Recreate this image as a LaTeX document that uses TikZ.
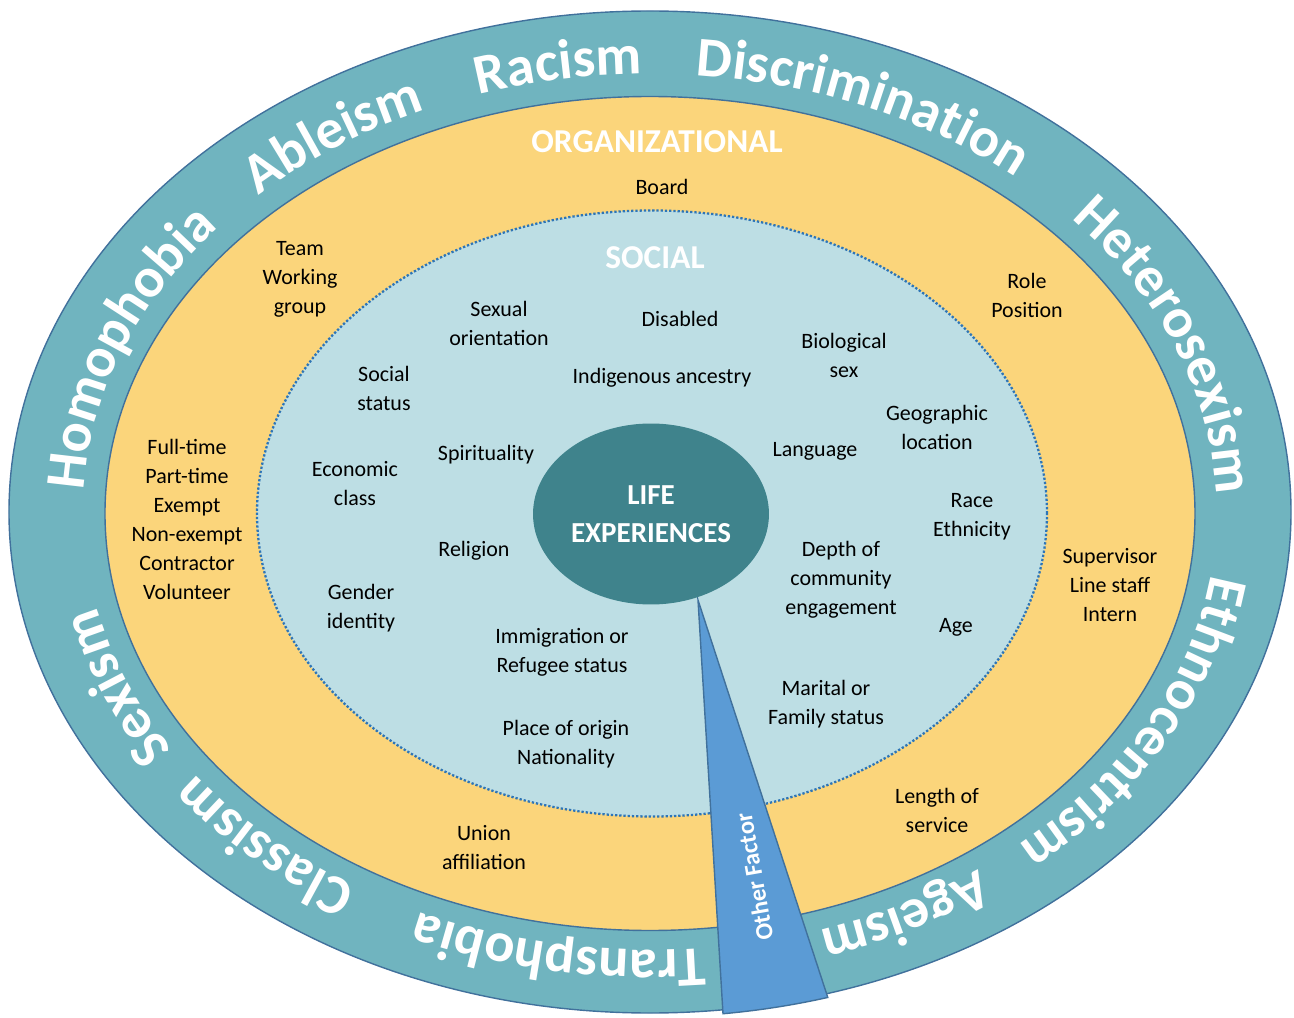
\documentclass[tikz,border=0pt]{standalone}
\usepackage{fontspec}
\setmainfont{Carlito}
\usepackage{xcolor}
\usetikzlibrary{shapes.geometric, decorations.text}

\definecolor{ringteal}{RGB}{112,180,191}
\definecolor{edgeblue}{RGB}{65,113,156}
\definecolor{orgyellow}{RGB}{251,213,123}
\definecolor{socblue}{RGB}{189,222,228}
\definecolor{lifeteal}{RGB}{63,131,140}
\definecolor{wedgeblue}{RGB}{91,155,213}
\definecolor{dotblue}{RGB}{46,117,182}

\newcommand\ringfont{\fontsize{32}{32}\selectfont\bfseries}

\begin{document}
\begin{tikzpicture}[
        x=0.02cm, y=0.02cm,
        ringword/.style={decorate, decoration={text along path, text align=center, text color=white, text={|\ringfont|#1}}},
        entry/.style={align=center, inner sep=0pt, font=\fontsize{12.5}{16.5}\selectfont},
        heading/.style={inner sep=0pt, text=white, font=\fontsize{19}{21}\selectfont\bfseries},
        lifeexp/.style={ellipse, fill=lifeteal, text=white, align=center, inner sep=0pt, minimum width=4.72cm, minimum height=3.62cm, font=\fontsize{16.5}{21.5}\selectfont\bfseries}
        ]
        \useasboundingbox (-650,-505) rectangle (644,512);

        % Rings
        \filldraw[fill=ringteal, draw=edgeblue, line width=0.8pt] (0,0) ellipse [x radius=641, y radius=501];
        \filldraw[fill=orgyellow, draw=edgeblue, line width=0.8pt] (0,-1.5) ellipse [x radius=545, y radius=417];
        \filldraw[fill=socblue, draw=dotblue, line width=1.3pt, dash pattern=on 1.3pt off 1.1pt] (2,-1.5) ellipse [x radius=395, y radius=303];

        % Words round the outer ring
        \path[ringword=Homophobia] (200:567 and 438) arc[start angle=200, end angle=120, x radius=567, y radius=438];
        \path[ringword=Ableism] (166:567 and 438) arc[start angle=166, end angle=86, x radius=567, y radius=438];
        \path[ringword=Racism] (140:567 and 438) arc[start angle=140, end angle=60, x radius=567, y radius=438];
        \path[ringword=Discrimination] (106:567 and 438) arc[start angle=106, end angle=26, x radius=567, y radius=438];
        \path[ringword=Heterosexism] (60.5:567 and 438) arc[start angle=60.5, end angle=-19.5, x radius=567, y radius=438];
        \path[ringword=Ethnocentrism] (13:567 and 438) arc[start angle=13, end angle=-67, x radius=567, y radius=438];
        \path[ringword=Ageism] (-21.5:567 and 438) arc[start angle=-21.5, end angle=-101.5, x radius=567, y radius=438];
        \path[ringword=Transphobia] (-60:567 and 438) arc[start angle=-60, end angle=-140, x radius=567, y radius=438];
        \path[ringword=Classism] (-95:567 and 438) arc[start angle=-95, end angle=-175, x radius=567, y radius=438];
        \path[ringword=Sexism] (-119.5:567 and 438) arc[start angle=-119.5, end angle=-199.5, x radius=567, y radius=438];

        % Wedge
        \filldraw[fill=wedgeblue, draw=edgeblue, line width=0.8pt] (48,-88) -- (-83.5:645 and 505) arc[start angle=-83.5, end angle=-74, x radius=645, y radius=505] -- cycle;

        % Nodes (pixel positions)
        \begin{scope}[shift={(-650,512)}, yscale=-1]
        \node[lifeexp] (life) at (651,514) {LIFE\\EXPERIENCES};
        \node[inner sep=0pt, rotate=100, text=white, font=\fontsize{14}{16}\selectfont\bfseries] (other) at (754,877) {Other Factor};

        \node[heading] (org) at (657,142) {ORGANIZATIONAL};
        \node[entry] (board) at (662,187) {Board};
        \node[entry] (team) at (300,279) {Team\\Working\\group};
        \node[entry] (role) at (1027,295) {Role\\Position};
        \node[entry] (status) at (187,519) {Full-time\\Part-time\\Exempt\\Non-exempt\\Contractor\\Volunteer};
        \node[entry] (level) at (1110,585) {Supervisor\\Line staff\\Intern};
        \node[entry] (length) at (937,810) {Length of\\service};
        \node[entry] (union) at (484,848) {Union\\affiliation};

        \node[heading] (social) at (655,258) {SOCIAL};
        \node[entry] (sexual) at (499,323) {Sexual\\orientation};
        \node[entry] (disabled) at (680,319) {Disabled};
        \node[entry] (biosex) at (844,355) {Biological\\sex};
        \node[entry] (socstatus) at (384,388) {Social\\status};
        \node[entry] (indigenous) at (662,378) {Indigenous ancestry};
        \node[entry] (geo) at (937,427) {Geographic\\location};
        \node[entry] (economic) at (355,484) {Economic\\class};
        \node[entry] (spirit) at (486,455) {Spirituality};
        \node[entry] (language) at (815,451) {Language};
        \node[entry] (race) at (972,517) {Race\\Ethnicity};
        \node[entry] (religion) at (474,551) {Religion};
        \node[entry] (depth) at (841,580) {Depth of\\community\\engagement};
        \node[entry] (gender) at (361,608) {Gender\\identity};
        \node[entry] (age) at (956,627) {Age};
        \node[entry] (immig) at (562,652) {Immigration or\\Refugee status};
        \node[entry] (marital) at (826,704) {Marital or\\Family status};
        \node[entry] (origin) at (566,744) {Place of origin\\Nationality};
        \end{scope}

\end{tikzpicture}
\end{document}
